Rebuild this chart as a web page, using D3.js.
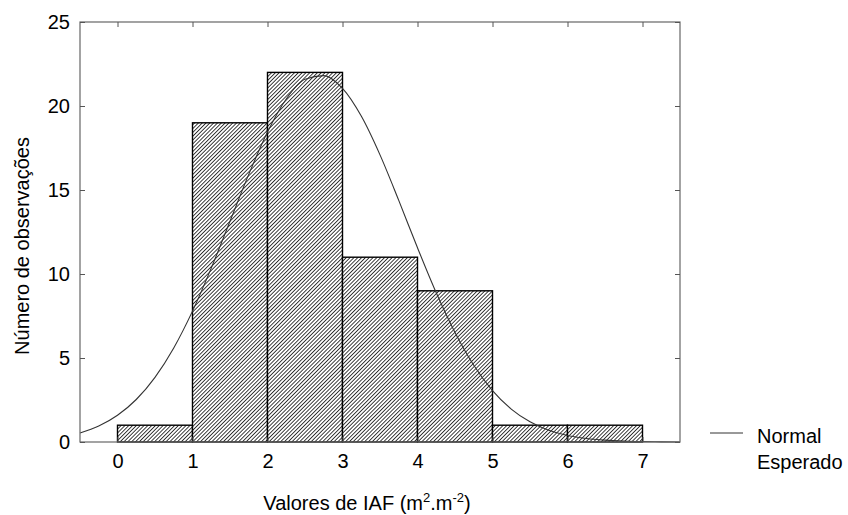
<!DOCTYPE html>
<html>
<head>
<meta charset="utf-8">
<script src="https://cdn.jsdelivr.net/npm/d3@7"></script>
<style>
  html, body { margin: 0; padding: 0; background: #fff; }
  svg text { font-family: "Liberation Sans", Arial, sans-serif; fill: #000; }
</style>
</head>
<body>
<svg id="chart" width="848" height="515"></svg>
<script>
// Histogram of IAF values (class limits and counts)
const binStarts = [0, 1, 2, 3, 4, 5, 6];
const binWidth = 1;
const counts = [1, 19, 22, 11, 9, 1, 1];

// Expected normal curve (number of observations per class)
const curveX = [-0.5, -0.25, 0, 0.25, 0.5, 0.75, 1, 1.25, 1.5, 1.75, 2, 2.25, 2.5, 2.75, 3,
  3.25, 3.5, 3.75, 4, 4.25, 4.5, 4.75, 5, 5.25, 5.5, 5.75, 6, 6.25, 6.5, 6.75, 7, 7.25, 7.5];
const curveY = [0.54, 0.95, 1.59, 2.53, 3.85, 5.60, 7.79, 10.35, 13.14, 15.93, 18.45, 20.42, 21.59, 21.81, 21.05,
  19.40, 17.09, 14.38, 11.56, 8.88, 6.52, 4.57, 3.06, 1.96, 1.20, 0.70, 0.39, 0.21, 0.11, 0.05, 0.02, 0.01, 0.0];

const xTicks = [0, 1, 2, 3, 4, 5, 6, 7];
const yTicks = [0, 5, 10, 15, 20, 25];

const svg = d3.select("#chart");
const mLeft = 80, mRight = 680, mTop = 22, mBottom = 442;
const fontSize = "20px";

const x = d3.scaleLinear().domain([-0.5, 7.5]).range([mLeft, mRight]);
const y = d3.scaleLinear().domain([0, 25]).range([mBottom, mTop]);

// diagonal hatch fill for the bars
const hp = 2.7;
const defs = svg.append("defs");
const pat = defs.append("pattern")
  .attr("id", "hatch")
  .attr("patternUnits", "userSpaceOnUse")
  .attr("width", hp).attr("height", hp)
  .attr("patternTransform", "rotate(45)");
pat.append("rect").attr("width", hp).attr("height", hp).attr("fill", "#fff");
pat.append("line")
  .attr("x1", 0).attr("y1", 0).attr("x2", 0).attr("y2", hp)
  .attr("stroke", "#000").attr("stroke-width", 1.5);

// bars
svg.append("g").selectAll("rect")
  .data(binStarts.map((s, i) => ({ s, c: counts[i] })))
  .join("rect")
  .attr("x", d => x(d.s))
  .attr("y", d => y(d.c))
  .attr("width", d => x(d.s + binWidth) - x(d.s))
  .attr("height", d => y(0) - y(d.c))
  .attr("fill", "url(#hatch)")
  .attr("stroke", "#000")
  .attr("stroke-width", 1.4);

// expected normal curve
const line = d3.line()
  .x(d => x(d[0]))
  .y(d => y(d[1]))
  .curve(d3.curveMonotoneX);
svg.append("path")
  .datum(curveX.map((v, i) => [v, curveY[i]]))
  .attr("d", line)
  .attr("fill", "none")
  .attr("stroke", "#333")
  .attr("stroke-width", 1.1);

// frame
svg.append("rect")
  .attr("x", mLeft).attr("y", mTop)
  .attr("width", mRight - mLeft).attr("height", mBottom - mTop)
  .attr("fill", "none").attr("stroke", "#666").attr("stroke-width", 1.2);

// axes with inward ticks
const tickLen = 5;
const gx = svg.append("g").attr("transform", `translate(0,${mBottom})`)
  .call(d3.axisBottom(x).tickValues(xTicks).tickSize(-tickLen).tickPadding(12).tickFormat(d3.format("d")));
const gxTop = svg.append("g").attr("transform", `translate(0,${mTop})`)
  .call(d3.axisTop(x).tickValues(xTicks).tickSize(-tickLen).tickFormat(""));
const gy = svg.append("g").attr("transform", `translate(${mLeft},0)`)
  .call(d3.axisLeft(y).tickValues(yTicks).tickSize(-tickLen).tickPadding(10).tickFormat(d3.format("d")));
const gyR = svg.append("g").attr("transform", `translate(${mRight},0)`)
  .call(d3.axisRight(y).tickValues(yTicks).tickSize(-tickLen).tickFormat(""));

[gx, gxTop, gy, gyR].forEach(g => {
  g.select(".domain").remove();
  g.selectAll(".tick line").attr("stroke", "#555");
  g.selectAll("text").style("font-size", fontSize)
    .style("font-family", "'Liberation Sans', Arial, sans-serif").attr("fill", "#000");
});

// axis titles
const xt = svg.append("text")
  .attr("x", 367).attr("y", 510)
  .attr("text-anchor", "middle")
  .style("font-size", fontSize);
xt.append("tspan").text("Valores de IAF (m");
xt.append("tspan").attr("dy", -8).style("font-size", "13px").text("2");
xt.append("tspan").attr("dy", 8).text(".m");
xt.append("tspan").attr("dy", -8).style("font-size", "13px").text("-2");
xt.append("tspan").attr("dy", 8).text(")");

svg.append("text")
  .attr("transform", `translate(29,246) rotate(-90)`)
  .attr("text-anchor", "middle")
  .style("font-size", fontSize)
  .text("Número de observações");

// legend
svg.append("line")
  .attr("x1", 710).attr("x2", 743).attr("y1", 433).attr("y2", 433)
  .attr("stroke", "#333").attr("stroke-width", 1);
svg.append("text").attr("x", 757).attr("y", 443).style("font-size", fontSize).text("Normal");
svg.append("text").attr("x", 757).attr("y", 469).style("font-size", fontSize).text("Esperado");
</script>
</body>
</html>
